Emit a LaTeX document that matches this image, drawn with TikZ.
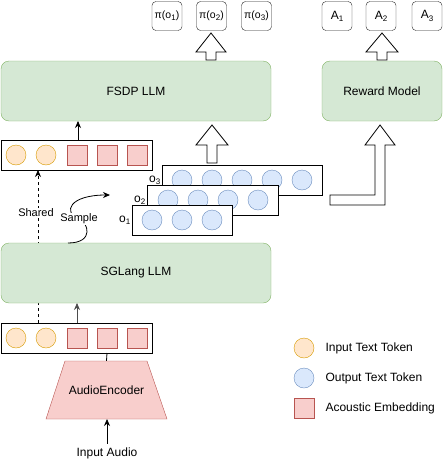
\documentclass[tikz,border=0pt]{standalone}
\usepackage{fontspec}
\setmainfont{Liberation Sans}
\usetikzlibrary{arrows.meta,calc}
\definecolor{gfill}{HTML}{D5E8D4}
\definecolor{gline}{HTML}{82B366}
\definecolor{ofill}{HTML}{FFE6CC}
\definecolor{oline}{HTML}{D79B00}
\definecolor{bfill}{HTML}{DAE8FC}
\definecolor{bline}{HTML}{6C8EBF}
\definecolor{rfill}{HTML}{F8CECC}
\definecolor{rline}{HTML}{B85450}
\newcommand{\subsc}[1]{\raisebox{-0.35ex}{\fontsize{8}{9}\selectfont #1}}
\begin{document}
\begin{tikzpicture}[x=1pt,y=-1pt,
  font=\fontsize{12}{14}\selectfont,
  llm/.style={draw=gline, fill=gfill, rounded corners=8pt, minimum height=60pt, inner sep=0pt},
  rowbox/.style={draw=black, line width=1pt, fill=white, minimum height=30pt, inner sep=0pt},
  intok/.style={circle, draw=oline, fill=ofill, minimum size=20pt, inner sep=0pt},
  outtok/.style={circle, draw=bline, fill=bfill, minimum size=20pt, inner sep=0pt},
  acou/.style={rectangle, draw=rline, fill=rfill, minimum size=20pt, inner sep=0pt},
  outbox/.style={draw=black!85, rounded corners=4pt, minimum width=30pt, minimum height=29pt, inner sep=0pt},
  hollow/.style={draw=black, fill=white, line width=0.8pt, line join=miter},
  conn/.style={-{Stealth[length=7pt,width=6pt]}, line width=0.8pt},
  lbl/.style={fill=white, inner sep=1pt, font=\fontsize{11}{13}\selectfont}
]
\useasboundingbox (0,0) rectangle (443,469);

% dashed shared connector (drawn behind SGLang box)
\coordinate (shbot) at (38,323);
\coordinate (shtop) at (38,170);
\draw[conn, dashed, line width=0.7pt] (shbot) -- (shtop);

% LLM boxes
\node[llm, minimum width=270pt] (fsdp) at (136,91) {FSDP LLM};
\node[llm, minimum width=120pt] (reward) at (382,91) {Reward Model};
\node[llm, minimum width=270pt] (sglang) at (136,273) {SGLang LLM};

\node[lbl] (shared) at (36,213) {Shared};

% top token row
\node[rowbox, minimum width=151pt] (toprow) at (76.5,155) {};
\node[intok] (t1) at (16,155) {};
\node[intok] (t2) at (46,155) {};
\node[acou] (t3) at (77,155) {};
\node[acou] (t4) at (107,155) {};
\node[acou] (t5) at (137,155) {};

% bottom token row
\node[rowbox, minimum width=151pt] (botrow) at (76.5,338) {};
\node[intok] (b1) at (16,338) {};
\node[intok] (b2) at (46,338) {};
\node[acou] (b3) at (77,338) {};
\node[acou] (b4) at (107,338) {};
\node[acou] (b5) at (137,338) {};

% audio encoder
\node[minimum width=82pt, minimum height=58pt, inner sep=0pt] (enc) at (106.5,390) {};
\fill[rfill] (65,361) -- (147,361) -- (167,419) -- (46,419) -- cycle;
\draw[rline] (65,361) -- (147,361) -- (167,419) -- (46,419) -- cycle;
\node at (enc.center) {AudioEncoder};
\node (audio) at (107,453) {Input Audio};

% connectors
\draw[conn] (audio.north) -- (107,419);
\draw[line width=0.8pt] (enc.north) -- (107,353);
\draw[conn, black!70] (77,323) -- (77,303);
\draw[conn] (78,140) -- (78,121);

% sample curve
\coordinate (smstart) at (68,243);
\coordinate (smend) at (110,195);
\draw[conn] (smstart) .. controls (95,243) and (88,222) .. (79,219)
  .. controls (62,212) and (70,195) .. (smend);
\node[lbl] (sample) at (79,219) {Sample};

% output sequences
\node[rowbox, minimum width=160pt] (o3) at (242,180) {};
\foreach \x/\n in {182/1,212/2,242/3,272/4,302/5} \node[outtok] (o3c\n) at (\x,180) {};
\node[rowbox, minimum width=131pt] (o2) at (212.5,200) {};
\foreach \x/\n in {168/1,198/2,228/3,258/4} \node[outtok] (o2c\n) at (\x,200) {};
\node[rowbox, minimum width=100pt] (o1) at (182,220) {};
\foreach \x/\n in {152/1,182/2,212/3} \node[outtok] (o1c\n) at (\x,220) {};
\node[anchor=east, inner sep=1pt] (o3l) at (o3.west) {o\subsc{3}};
\node[anchor=east, inner sep=1pt] (o2l) at (o2.west) {o\subsc{2}};
\node[anchor=east, inner sep=1pt] (o1l) at (o1.west) {o\subsc{1}};

% hollow arrows
\draw[hollow] (207,163) -- (207,145) -- (196,145) -- (212,125) -- (228,145) -- (217,145) -- (217,163) -- cycle;
\draw[hollow] (206,60) -- (206,52) -- (196,52) -- (211,33) -- (226,52) -- (216,52) -- (216,60) -- cycle;
\draw[hollow] (377,60) -- (377,52) -- (366,52) -- (382,33) -- (398,52) -- (387,52) -- (387,60) -- cycle;
\draw[hollow] (330,195) -- (375,195) -- (375,145) -- (365,145) -- (380,125) -- (395,145) -- (385,145) -- (385,205) -- (330,205) -- cycle;

% outputs
\begin{scope}[every node/.append style={font=\fontsize{10.5}{12}\selectfont}]
\node[outbox] (p1) at (167,16) {π(o\subsc{1})};
\node[outbox] (p2) at (211.5,16) {π(o\subsc{2})};
\node[outbox] (p3) at (256.5,16) {π(o\subsc{3})};
\end{scope}
\node[outbox] (a1) at (337,16) {A\subsc{1}};
\node[outbox] (a2) at (381,16) {A\subsc{2}};
\node[outbox] (a3) at (427,16) {A\subsc{3}};

% legend
\node[intok] (lg1) at (304,348) {};
\node[anchor=west] (lg1t) at (322,348) {Input Text Token};
\node[outtok] (lg2) at (304,378) {};
\node[anchor=west] (lg2t) at (322,378) {Output Text Token};
\node[acou] (lg3) at (304,408) {};
\node[anchor=west] (lg3t) at (322,408) {Acoustic Embedding};
\end{tikzpicture}
\end{document}
